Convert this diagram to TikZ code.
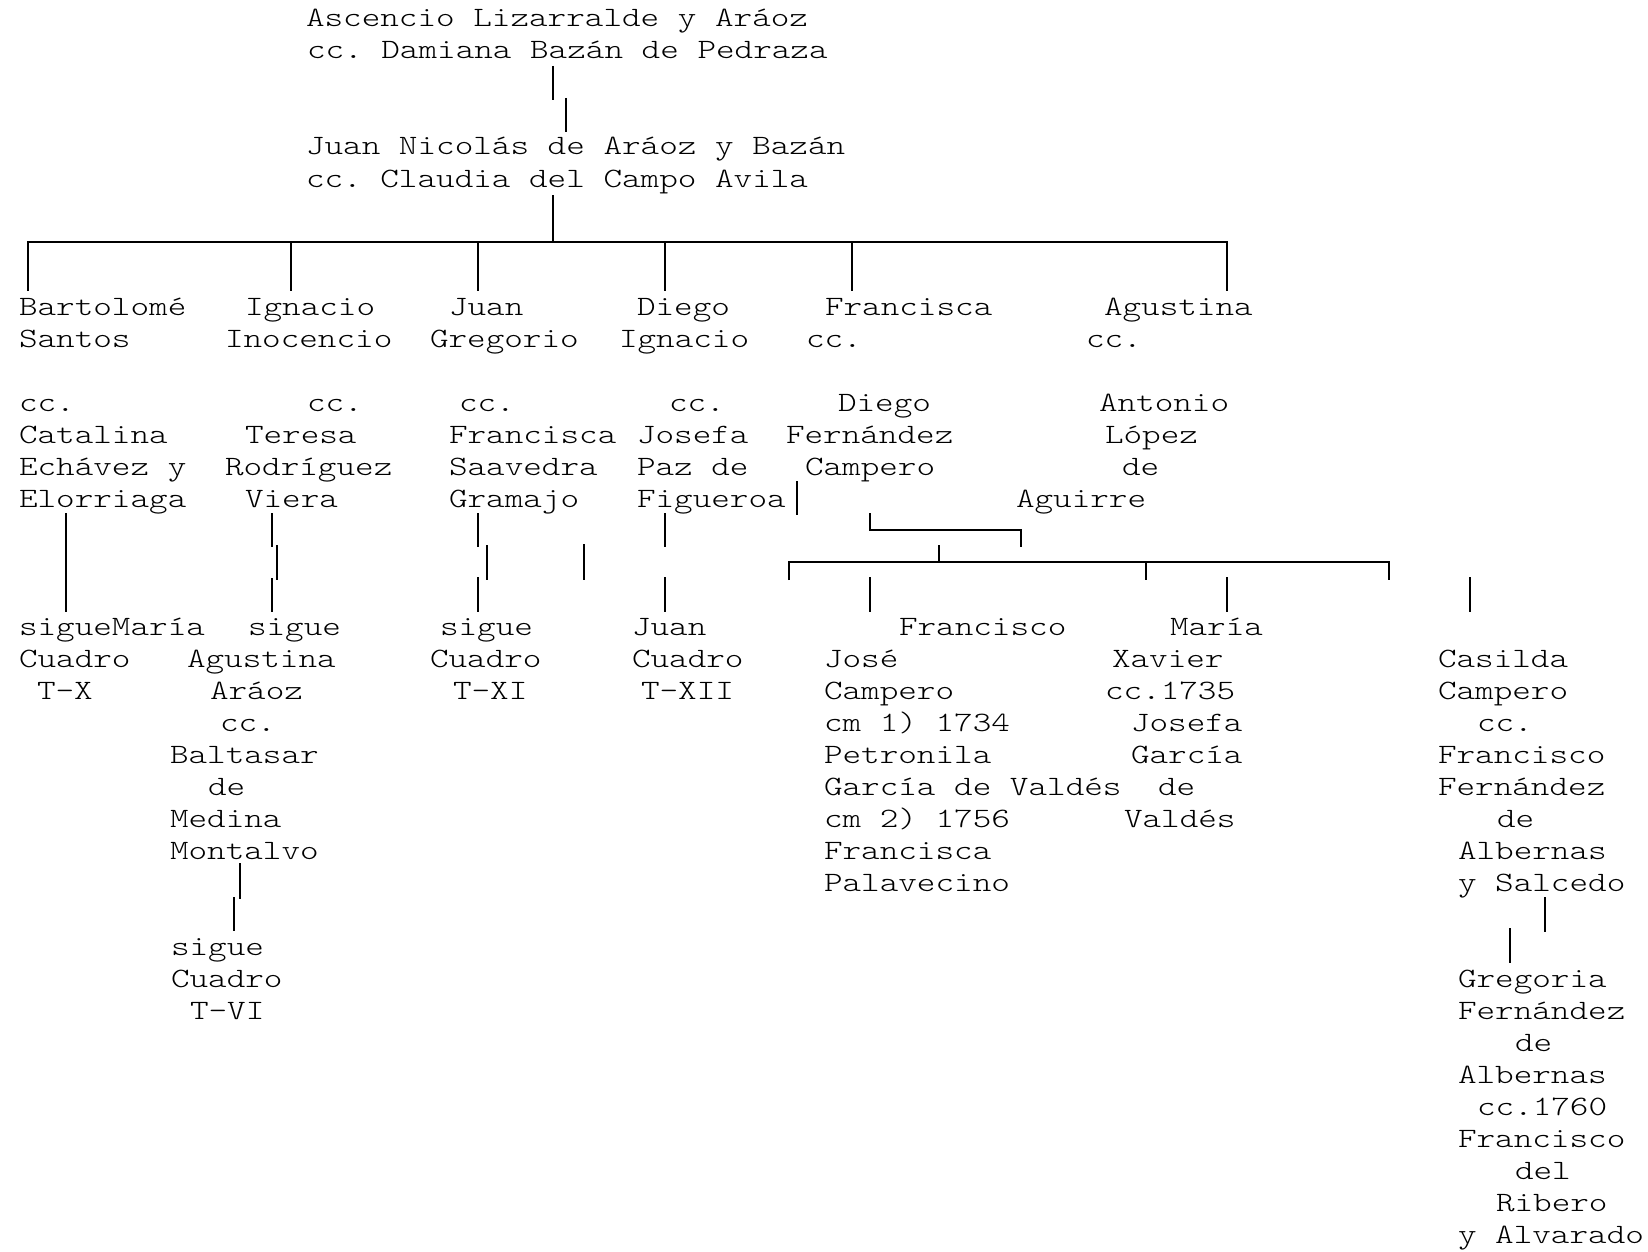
\documentclass[tikz,border=0pt]{standalone}
\usepackage{fontspec}
\newfontfamily\cour[FakeStretch=1.265]{lmmonolt10-regular.otf}
\begin{document}
\frenchspacing
\begin{tikzpicture}[x=0.5pt,y=-0.5pt,
  t/.style={anchor=base west, inner sep=0pt, outer sep=0pt, font=\cour\fontsize{14pt}{16pt}\selectfont\frenchspacing},
  ln/.style={line width=1pt, black}]
\useasboundingbox[fill=white] (0,0) rectangle (1648,1252);
% ---- top couples
\node[t] (a0) at (306,27) {Ascencio Lizarralde y Aráoz};
\node[t] (a1) at (307,59) {cc. Damiana Bazán de Pedraza};
\node[t] (b0) at (306,155) {Juan Nicolás de Aráoz y Bazán};
\node[t] (b1) at (306,187) {cc. Claudia del Campo Avila};
% ---- row 9
\node[t] (c1) at (19,315) {Bartolomé};
\node[t] (c2) at (245,315) {Ignacio};
\node[t] (c3) at (449,315) {Juan};
\node[t] (c4) at (637,315) {Diego};
\node[t] (c5) at (825,315) {Francisca};
\node[t] (c6) at (1104,315) {Agustina};
% ---- row 10
\node[t] (d1) at (19,347) {Santos};
\node[t] (d2) at (225,347) {Inocencio};
\node[t] (d3) at (430,347) {Gregorio};
\node[t] (d4) at (619,347) {Ignacio};
\node[t] (d5) at (806,347) {cc.};
\node[t] (d6) at (1086,347) {cc.};
% ---- row 12
\node[t] (e1) at (19,411) {cc.};
\node[t] (e2) at (307,411) {cc.};
\node[t] (e3) at (459,411) {cc.};
\node[t] (e4) at (669,411) {cc.};
\node[t] (e5) at (838,411) {Diego};
\node[t] (e6) at (1099,411) {Antonio};
% ---- row 13
\node[t] (f1) at (19,443) {Catalina};
\node[t] (f2) at (245,443) {Teresa};
\node[t] (f3) at (449,443) {Francisca};
\node[t] (f4) at (637,443) {Josefa};
\node[t] (f5) at (786,443) {Fernández};
\node[t] (f6) at (1105,443) {López};
% ---- row 14
\node[t] (g1) at (19,475) {Echávez y};
\node[t] (g2) at (225,475) {Rodríguez};
\node[t] (g3) at (449,475) {Saavedra};
\node[t] (g4) at (637,475) {Paz de};
\node[t] (g5) at (805,475) {Campero};
\node[t] (g6) at (1122,475) {de};
% ---- row 15
\node[t] (h1) at (19,507) {Elorriaga};
\node[t] (h2) at (245,507) {Viera};
\node[t] (h3) at (449,507) {Gramajo};
\node[t] (h4) at (637,507) {Figueroa};
\node[t] (h6) at (1016,507) {Aguirre};
% ---- row 19
\node[t] (i1) at (19,635) {sigueMaría};
\node[t] (i2) at (248,635) {sigue};
\node[t] (i3) at (440,635) {sigue};
\node[t] (i4) at (632,635) {Juan};
\node[t] (i5) at (899,635) {Francisco};
\node[t] (i6) at (1170,635) {María};
% ---- row 20
\node[t] (j1) at (19,667) {Cuadro};
\node[t] (j2) at (187,667) {Agustina};
\node[t] (j3) at (430,667) {Cuadro};
\node[t] (j4) at (632,667) {Cuadro};
\node[t] (j5) at (824,667) {José};
\node[t] (j6) at (1112,667) {Xavier};
\node[t] (j7) at (1438,667) {Casilda};
% ---- row 21
\node[t] (k1) at (37,699) {T-X};
\node[t] (k2) at (210,699) {Aráoz};
\node[t] (k3) at (453,699) {T-XI};
\node[t] (k4) at (641,699) {T-XII};
\node[t] (k5) at (824,699) {Campero};
\node[t] (k6) at (1105,699) {cc.1735};
\node[t] (k7) at (1438,699) {Campero};
% ---- row 22
\node[t] (l2) at (220,731) {cc.};
\node[t] (l5) at (824,731) {cm 1) 1734};
\node[t] (l6) at (1131,731) {Josefa};
\node[t] (l7) at (1477,731) {cc.};
% ---- row 23
\node[t] (m2) at (170,763) {Baltasar};
\node[t] (m5) at (824,763) {Petronila};
\node[t] (m6) at (1131,763) {García};
\node[t] (m7) at (1438,763) {Francisco};
% ---- row 24
\node[t] (n2) at (208,795) {de};
\node[t] (n5) at (824,795) {García de Valdés};
\node[t] (n6) at (1158,795) {de};
\node[t] (n7) at (1438,795) {Fernández};
% ---- row 25
\node[t] (o2) at (170,827) {Medina};
\node[t] (o5) at (824,827) {cm 2) 1756};
\node[t] (o6) at (1124,827) {Valdés};
\node[t] (o7) at (1497,827) {de};
% ---- row 26
\node[t] (p2) at (170,859) {Montalvo};
\node[t] (p5) at (824,859) {Francisca};
\node[t] (p7) at (1458,859) {Albernas};
% ---- row 27
\node[t] (q5) at (824,891) {Palavecino};
\node[t] (q7) at (1458,891) {y Salcedo};
% ---- lower left
\node[t] (r1) at (171,955) {sigue};
\node[t] (r2) at (171,987) {Cuadro};
\node[t] (r3) at (190,1019) {T-VI};
% ---- lower right
\node[t] (s1) at (1458,987) {Gregoria};
\node[t] (s2) at (1458,1019) {Fernández};
\node[t] (s3) at (1515,1051) {de};
\node[t] (s4) at (1458,1083) {Albernas};
\node[t] (s5) at (1477,1115) {cc.1760};
\node[t] (s6) at (1458,1147) {Francisco};
\node[t] (s7) at (1515,1179) {del};
\node[t] (s8) at (1496,1211) {Ribero};
\node[t] (s9) at (1458,1243) {y Alvarado};

% ---- connector coordinates
\coordinate (v1a) at (553,66);   \coordinate (v1b) at (553,100);
\coordinate (v2a) at (566,98);   \coordinate (v2b) at (566,132);
\coordinate (v3a) at (553,195);  \coordinate (v3b) at (553,242);
\coordinate (bl0) at (28,291);   \coordinate (bl1) at (28,242);
\coordinate (br1) at (1227,242); \coordinate (br0) at (1227,291);
\draw[ln] (v1a) -- (v1b);
\draw[ln] (v2a) -- (v2b);
\draw[ln] (v3a) -- (v3b);
\draw[ln] (bl0) -- (bl1) -- (br1) -- (br0);
\foreach \xx in {291,478,665,852}{
  \draw[ln] (\xx,242) -- (\xx,291);
}
% under row 15
\coordinate (w1a) at (66,513); \coordinate (w1b) at (66,612);
\draw[ln] (w1a) -- (w1b);
\draw[ln] (272,513) -- (272,547);
\draw[ln] (277,545) -- (277,580);
\draw[ln] (272,578) -- (272,612);
\draw[ln] (478,513) -- (478,547);
\draw[ln] (487,545) -- (487,580);
\draw[ln] (478,577) -- (478,612);
\draw[ln] (584,544) -- (584,580);
\draw[ln] (665,513) -- (665,547);
\draw[ln] (665,577) -- (665,612);
\draw[ln] (797,481) -- (797,515);
% Francisca bracket
\coordinate (fb0) at (870,513); \coordinate (fb1) at (870,530);
\coordinate (fb2) at (1021,530); \coordinate (fb3) at (1021,547);
\draw[ln] (fb0) -- (fb1) -- (fb2) -- (fb3);
\draw[ln] (939,545) -- (939,562);
% second bar
\coordinate (sb0) at (789,580); \coordinate (sb1) at (789,562);
\coordinate (sb2) at (1389,562); \coordinate (sb3) at (1389,580);
\draw[ln] (sb0) -- (sb1) -- (sb2) -- (sb3);
\draw[ln] (1146,562) -- (1146,580);
\draw[ln] (870,577) -- (870,612);
\draw[ln] (1227,577) -- (1227,612);
\draw[ln] (1470,577) -- (1470,612);
% lower connectors
\draw[ln] (240,863) -- (240,899);
\draw[ln] (234,897) -- (234,931);
\draw[ln] (1545,897) -- (1545,932);
\draw[ln] (1510,928) -- (1510,963);
\end{tikzpicture}
\end{document}
